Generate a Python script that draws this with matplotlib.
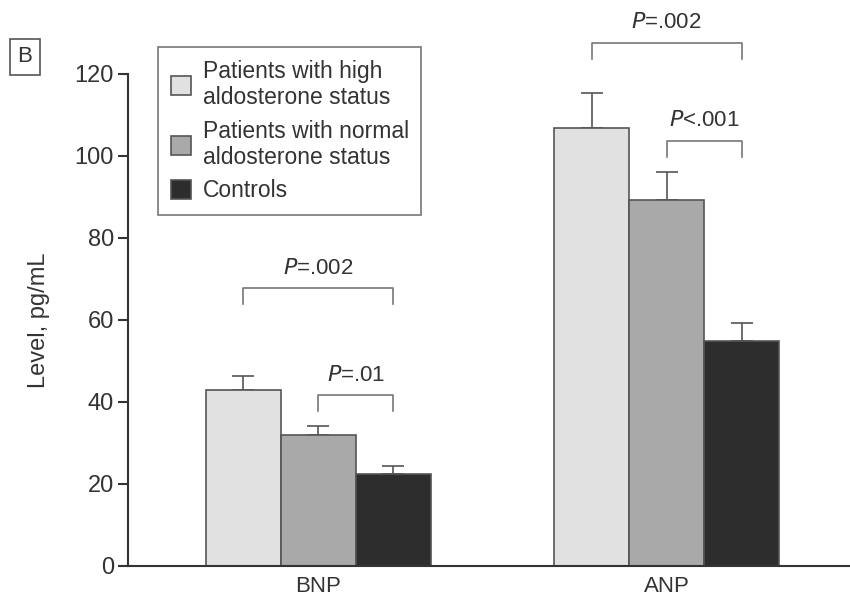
import numpy as np
import matplotlib.pyplot as plt

plt.rcParams['font.family'] = ['Liberation Sans Narrow', 'Liberation Sans', 'DejaVu Sans']

# Data
groups = ["BNP", "ANP"]
series = ["Patients with high\naldosterone status",
          "Patients with normal\naldosterone status",
          "Controls"]
means = [[43, 106.8],   # high aldosterone
         [32, 89.2],    # normal aldosterone
         [22.4, 54.9]]  # controls
errs = [[3.4, 8.6],
        [2.1, 6.9],
        [2.0, 4.4]]
colors = ["#e1e1e1", "#a9a9a9", "#2d2d2d"]

# comparisons: (group, series a, series b, bracket height, label)
comparisons = [(0, 0, 2, 67.8, "=.002"),
               (0, 1, 2, 41.7, "=.01"),
               (1, 0, 2, 127.6, "=.002"),
               (1, 1, 2, 103.7, "<.001")]

fig = plt.figure(figsize=(8.5, 6.03), dpi=100)
ax = fig.add_axes([128 / 850, 1 - 566 / 603, 722 / 850, 492 / 603])

x = np.arange(len(groups))
w = 0.2155
for i, name in enumerate(series):
    pos = x + (i - 1) * w
    ax.bar(pos, means[i], w, color=colors[i], edgecolor="#555555",
           linewidth=1.2, label=name, zorder=2)
    ax.errorbar(pos, means[i], yerr=[np.zeros(2), errs[i]], fmt="none",
                ecolor="#555555", elinewidth=1.2, capsize=8, capthick=1.2,
                zorder=1)

for g, a, b, h, txt in comparisons:
    xa = g + (a - 1) * w
    xb = g + (b - 1) * w
    ax.plot([xa, xa, xb, xb], [h - 3.9, h, h, h - 3.9], color="#777777",
            lw=1.2, clip_on=False)
    ax.text((xa + xb) / 2, h + 2.3, "$\\mathit{P}$" + txt, ha="center",
            va="bottom", fontsize=16, color="#333333", clip_on=False)

ax.set_xlim(-0.547, 1.527)
ax.set_ylim(0, 120)
ax.set_yticks(np.arange(0, 121, 20))
ax.set_xticks(x)
ax.set_xticklabels(groups)
ax.tick_params(axis="x", length=0, pad=7, labelsize=16, colors="#333333")
ax.tick_params(axis="y", length=7, width=1.5, pad=3, labelsize=17,
               colors="#333333")
for s in ["top", "right"]:
    ax.spines[s].set_visible(False)
for s in ["left", "bottom"]:
    ax.spines[s].set_color("#333333")
    ax.spines[s].set_linewidth(1.5)
ax.set_ylabel("Level, pg/mL", fontsize=17, color="#333333", labelpad=18)

leg = ax.legend(loc="upper left", bbox_to_anchor=(30 / 722, 1 + 27 / 492),
                borderaxespad=0, fontsize=16.5, frameon=True, fancybox=False,
                handlelength=0.9, handleheight=0.9, handletextpad=0.5,
                labelspacing=0.45, borderpad=0.55, edgecolor="#555555")
leg.get_frame().set_linewidth(1.2)
for t in leg.get_texts():
    t.set_color("#333333")

fig.text(25 / 850, 1 - 57 / 603, "B", fontsize=16, ha="center", va="center",
         color="#333333",
         bbox=dict(boxstyle="square,pad=0.35", fc="white", ec="#555555", lw=1.2))

fig.savefig("out.png", dpi=100)
